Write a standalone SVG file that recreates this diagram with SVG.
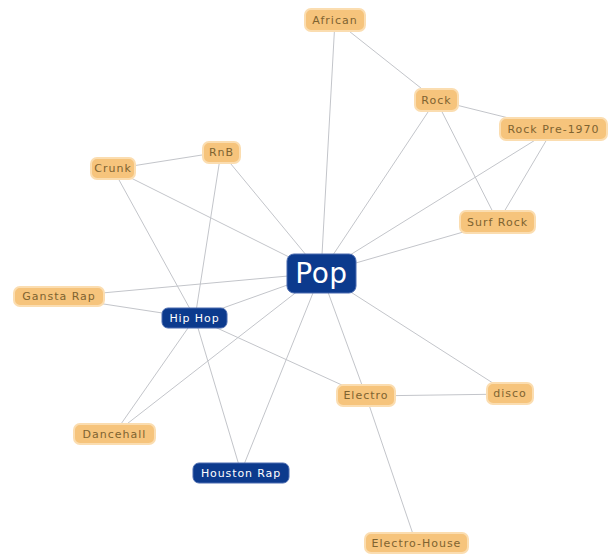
<svg xmlns="http://www.w3.org/2000/svg" width="611" height="558" viewBox="0 0 611 558">
<style>
.e{stroke:#c3c5ca;stroke-width:1;fill:none}
.o rect{fill:#f6c47c;stroke:#fbddb0;stroke-width:2}
.o text{fill:#7e6330;font-family:"DejaVu Sans",sans-serif;font-size:11px;letter-spacing:1px;text-anchor:middle;dominant-baseline:central}
.b rect{fill:#0c3a8d;stroke:#4a6bb0;stroke-width:1}
.b text{fill:#ffffff;font-family:"DejaVu Sans",sans-serif;font-size:11px;letter-spacing:0.9px;text-anchor:middle;dominant-baseline:central}
</style>
<rect width="611" height="558" fill="#ffffff"/>
<g id="connectors">
<line class="e" x1="335" y1="20" x2="321" y2="273"/>
<line class="e" x1="335" y1="20" x2="436" y2="100"/>
<line class="e" x1="436" y1="100" x2="553" y2="129"/>
<line class="e" x1="436" y1="100" x2="321" y2="273"/>
<line class="e" x1="436" y1="100" x2="498" y2="222"/>
<line class="e" x1="553" y1="129" x2="498" y2="222"/>
<line class="e" x1="553" y1="129" x2="321" y2="273"/>
<line class="e" x1="498" y1="222" x2="321" y2="273"/>
<line class="e" x1="113" y1="169" x2="221" y2="152"/>
<line class="e" x1="113" y1="169" x2="321" y2="273"/>
<line class="e" x1="113" y1="169" x2="195" y2="318"/>
<line class="e" x1="221" y1="152" x2="195" y2="318"/>
<line class="e" x1="221" y1="152" x2="321" y2="273"/>
<line class="e" x1="58" y1="297" x2="321" y2="273"/>
<line class="e" x1="58" y1="297" x2="195" y2="318"/>
<line class="e" x1="195" y1="318" x2="321" y2="273"/>
<line class="e" x1="195" y1="318" x2="366" y2="396"/>
<line class="e" x1="195" y1="318" x2="241" y2="472"/>
<line class="e" x1="195" y1="318" x2="114" y2="434"/>
<line class="e" x1="321" y1="273" x2="114" y2="434"/>
<line class="e" x1="321" y1="273" x2="241" y2="472"/>
<line class="e" x1="321" y1="273" x2="366" y2="396"/>
<line class="e" x1="321" y1="273" x2="510" y2="394"/>
<line class="e" x1="366" y1="396" x2="510" y2="394"/>
<line class="e" x1="366" y1="396" x2="416" y2="543"/>
</g>
<g id="african" class="o"><rect x="305" y="9" width="60" height="22" rx="6"/><text x="335" y="20">African</text></g>
<g id="rock" class="o"><rect x="415" y="89" width="43" height="22" rx="6"/><text x="436.5" y="100">Rock</text></g>
<g id="rockpre1970" class="o"><rect x="500" y="118" width="107" height="22" rx="6"/><text x="553.5" y="129">Rock Pre-1970</text></g>
<g id="crunk" class="o"><rect x="91" y="158" width="44" height="21" rx="6"/><text x="113" y="168.5">Crunk</text></g>
<g id="rnb" class="o"><rect x="203" y="142" width="37" height="21" rx="6"/><text x="221.5" y="152.5">RnB</text></g>
<g id="surfrock" class="o"><rect x="460" y="211" width="75" height="22" rx="6"/><text x="497.5" y="222">Surf Rock</text></g>
<g id="pop" class="b"><rect x="287" y="254" width="69" height="39" rx="7"/><text x="321.5" y="273" style="font-size:28px;letter-spacing:0.5px">Pop</text></g>
<g id="gansta" class="o"><rect x="14" y="287" width="90" height="19" rx="6"/><text x="59" y="296.5">Gansta Rap</text></g>
<g id="hiphop" class="b"><rect x="162" y="308" width="65" height="20" rx="6"/><text x="194.5" y="318">Hip Hop</text></g>
<g id="dancehall" class="o"><rect x="74" y="424" width="81" height="20" rx="6"/><text x="114.5" y="434">Dancehall</text></g>
<g id="houstonrap" class="b"><rect x="193" y="463" width="96" height="20" rx="6"/><text x="241" y="473">Houston Rap</text></g>
<g id="electro" class="o"><rect x="337" y="385" width="58" height="21" rx="6"/><text x="366" y="395.5">Electro</text></g>
<g id="disco" class="o"><rect x="487" y="383" width="46" height="21" rx="6"/><text x="510" y="393.5">disco</text></g>
<g id="electrohouse" class="o"><rect x="365" y="533" width="103" height="20" rx="6"/><text x="416.5" y="543">Electro-House</text></g>
</svg>
